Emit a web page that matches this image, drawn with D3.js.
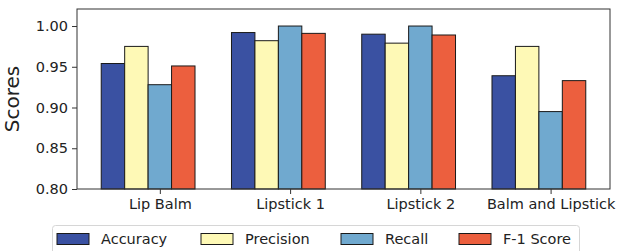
<!DOCTYPE html>
<html>
<head>
<meta charset="utf-8">
<script src="https://cdn.jsdelivr.net/npm/d3@7"></script>
<style>
  body { margin: 0; background: #fff; }
  svg { display: block; font-family: "DejaVu Sans", sans-serif; }
</style>
</head>
<body>
<svg width="621" height="251"></svg>
<script>
const categories = ['Lip Balm', 'Lipstick 1', 'Lipstick 2', 'Balm and Lipstick'];
const seriesNames = ['Accuracy', 'Precision', 'Recall', 'F-1 Score'];
const accuracy  = [0.954, 0.992, 0.990, 0.939];
const precision = [0.975, 0.982, 0.979, 0.975];
const recall    = [0.928, 1.000, 1.000, 0.895];
const f1score   = [0.951, 0.991, 0.989, 0.933];
const yTicks = [0.80, 0.85, 0.90, 0.95, 1.00];

const series = [accuracy, precision, recall, f1score];
const colors = ['#3a51a2', '#fef9b6', '#70a9cf', '#ec5f3e'];

const margin = {top: 9, right: 11, bottom: 62, left: 77},
      width = 621 - margin.left - margin.right,
      height = 251 - margin.top - margin.bottom;

const svg = d3.select('svg')
  .append('g')
    .attr('transform', 'translate(' + margin.left + ',' + margin.top + ')');

//--------------SCALES---------------------------------------
const barW = 0.18;
const xScale = d3.scaleLinear()
                 .domain([-0.636, 3.456])
                 .range([0, width]);
const yScale = d3.scaleLinear()
                 .domain([0.8, 1.0209])
                 .range([height, 0]);

//--------------BARS-----------------------------------------
series.forEach((vals, s) => {
  svg.append('g').selectAll('rect')
    .data(vals)
    .join('rect')
      .attr('x', (d, i) => xScale(i + (s - 2) * barW - barW / 2))
      .attr('y', d => yScale(d))
      .attr('width', xScale(barW) - xScale(0))
      .attr('height', d => yScale(0.8) - yScale(d))
      .attr('fill', colors[s])
      .attr('stroke', '#1a1a1a')
      .attr('stroke-width', 1);
});

//--------------AXES----------------------------------------
svg.append('rect')
   .attr('width', width).attr('height', height)
   .attr('fill', 'none').attr('stroke', '#333').attr('stroke-width', 1);

const axisX = svg.append('g')
  .attr('transform', 'translate(0,' + height + ')')
  .call(d3.axisBottom(xScale).tickValues(d3.range(categories.length))
          .tickFormat(i => categories[i]).tickSize(5).tickPadding(5));
axisX.select('.domain').remove();

const axisY = svg.append('g')
  .call(d3.axisLeft(yScale).tickValues(yTicks)
          .tickFormat(d3.format('.2f')).tickSize(5).tickPadding(4));
axisY.select('.domain').remove();

svg.selectAll('.tick line').attr('stroke', '#333');
svg.selectAll('.tick text')
   .attr('font-size', '14.5px')
   .attr('font-family', '"DejaVu Sans", sans-serif')
   .attr('fill', '#222');

svg.append('text')
   .attr('transform', 'translate(-58,' + (height / 2) + ') rotate(-90)')
   .attr('text-anchor', 'middle')
   .attr('font-size', '20px')
   .attr('fill', '#222')
   .text('Scores');

//--------------LEGEND--------------------------------------
const legend = d3.select('svg').append('g');
legend.append('rect')
  .attr('x', 52.5).attr('y', 225.5)
  .attr('width', 527).attr('height', 40)
  .attr('rx', 3)
  .attr('fill', '#fff').attr('stroke', '#d6d6d6');

const legendX = [57, 201, 341, 459];
seriesNames.forEach((name, s) => {
  legend.append('rect')
    .attr('x', legendX[s]).attr('y', 233.5)
    .attr('width', 32).attr('height', 11)
    .attr('fill', colors[s]).attr('stroke', '#1a1a1a');
  legend.append('text')
    .attr('x', legendX[s] + 44).attr('y', 244)
    .attr('font-size', '14.5px')
    .attr('fill', '#222')
    .text(name);
});
</script>
</body>
</html>
